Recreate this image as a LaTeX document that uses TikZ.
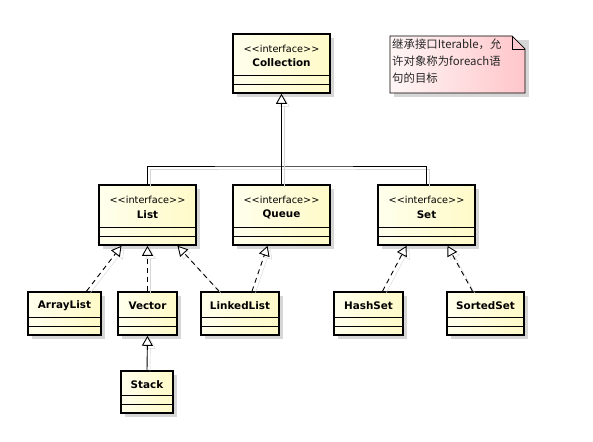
\documentclass[tikz,border=0pt]{standalone}
\usepackage{fontspec}
\setmainfont{DejaVu Sans}
\newfontfamily\cjk{Noto Sans CJK SC}
\usetikzlibrary{arrows.meta,positioning,calc}
\definecolor{clsleft}{HTML}{FFFFEC}
\definecolor{clsright}{HTML}{FFFAC8}
\definecolor{noteleft}{HTML}{FFF6F6}
\definecolor{noteright}{HTML}{FFC6CA}
\definecolor{shgray}{HTML}{D6D6D6}

\newcommand{\stereo}{\textless\kern0pt\textless\kern0pt interface\textgreater\kern0pt\textgreater}
\newcommand{\clsname}[1]{{\bfseries\fontsize{10.4}{14.5}\selectfont #1}}
% box: name, x1, y1, x2, y2, text
\newcommand{\umlclass}[6]{%
  \fill[shgray] (#2+4,#3+4) rectangle (#4+4,#5+4);
  \node[clsbox,minimum width=#4pt-#2pt,minimum height=#5pt-#3pt]
    (#1) at ({(#2+#4)/2},{(#3+#5)/2}) {};
  \draw[clsline] ([yshift=18pt]#1.south west) -- ([yshift=18pt]#1.south east);
  \draw[clsline] ([yshift=9pt]#1.south west) -- ([yshift=9pt]#1.south east);
  \node[clstext] (#1-name) at ($(#1.north)!0.5!([yshift=18pt]#1.south)+(0,1.5)$) {#6};
}

\begin{document}
\begin{tikzpicture}[
    x=1pt,y=-1pt,
    clsbox/.style={draw=black,line width=1.6pt,left color=clsleft,right color=clsright,
                   inner sep=0pt},
    clsline/.style={draw=black,line width=0.9pt},
    clstext/.style={font=\fontsize{9.7}{14.5}\selectfont,align=center,inner sep=0pt},
    gen/.style={-{Triangle[open,length=10pt,width=11pt,fill=white]},line width=0.9pt,
                preaction={draw=shgray,transform canvas={xshift=3pt,yshift=-3pt}}},
    genline/.style={line width=0.9pt,
                preaction={draw=shgray,transform canvas={xshift=3pt,yshift=-3pt}}},
    real/.style={gen,dash pattern=on 5pt off 4pt}
  ]
    \useasboundingbox[fill=white] (0,0) rectangle (593,441);

    % interfaces
    \umlclass{coll}{233}{34}{330}{93}{\stereo\\\clsname{Collection}}
    \umlclass{list}{99}{185}{196}{245}{\stereo\\\clsname{List}}
    \umlclass{queue}{233}{185}{330}{245}{\stereo\\\clsname{Queue}}
    \umlclass{set}{378}{185}{475}{245}{\stereo\\\clsname{Set}}

    % classes
    \umlclass{arraylist}{28}{292}{101}{335}{\clsname{ArrayList}}
    \umlclass{vector}{118}{292}{177}{335}{\clsname{Vector}}
    \umlclass{linkedlist}{201}{292}{279}{335}{\clsname{LinkedList}}
    \umlclass{hashset}{334}{292}{403}{335}{\clsname{HashSet}}
    \umlclass{sortedset}{447}{292}{524}{335}{\clsname{SortedSet}}
    \umlclass{stack}{121}{371}{173}{413}{\clsname{Stack}}

    % note
    \fill[shgray] (394,40) -- (529,40) -- (529,97) -- (394,97) -- cycle;
    \draw[black,line width=0.7pt,left color=noteleft,right color=noteright]
      (390,36) -- (512,36) -- (525,49) -- (525,93) -- (390,93) -- cycle;
    \draw[black,line width=0.7pt] (512,36) -- (512,49) -- (525,49);
    \node[anchor=north west,align=left,inner sep=0pt,text=black!85,
          font=\cjk\fontsize{11.4}{17}\selectfont] (note) at (392,39)
      {继承接口Iterable，允\\许对象称为foreach语\\句的目标};

    % generalization
    \coordinate (bar) at (281,166);
    \draw[genline] (list.north) |- (bar) -| (set.north);
    \draw[gen] (queue.north) -- (coll.south);
    \draw[gen] (stack.north) -- (vector.south);

    % realization
    \draw[real] ([xshift=22pt]arraylist.north) -- ([xshift=-26pt]list.south);
    \draw[real] (vector.north) -- (list.south);
    \draw[real] ([xshift=-21pt]linkedlist.north) -- ([xshift=30pt]list.south);
    \draw[real] ([xshift=12pt]linkedlist.north) -- ([xshift=-14pt]queue.south);
    \draw[real] ([xshift=14pt]hashset.north) -- ([xshift=-20pt]set.south);
    \draw[real] ([xshift=-13pt]sortedset.north) -- ([xshift=21pt]set.south);
\end{tikzpicture}
\end{document}
